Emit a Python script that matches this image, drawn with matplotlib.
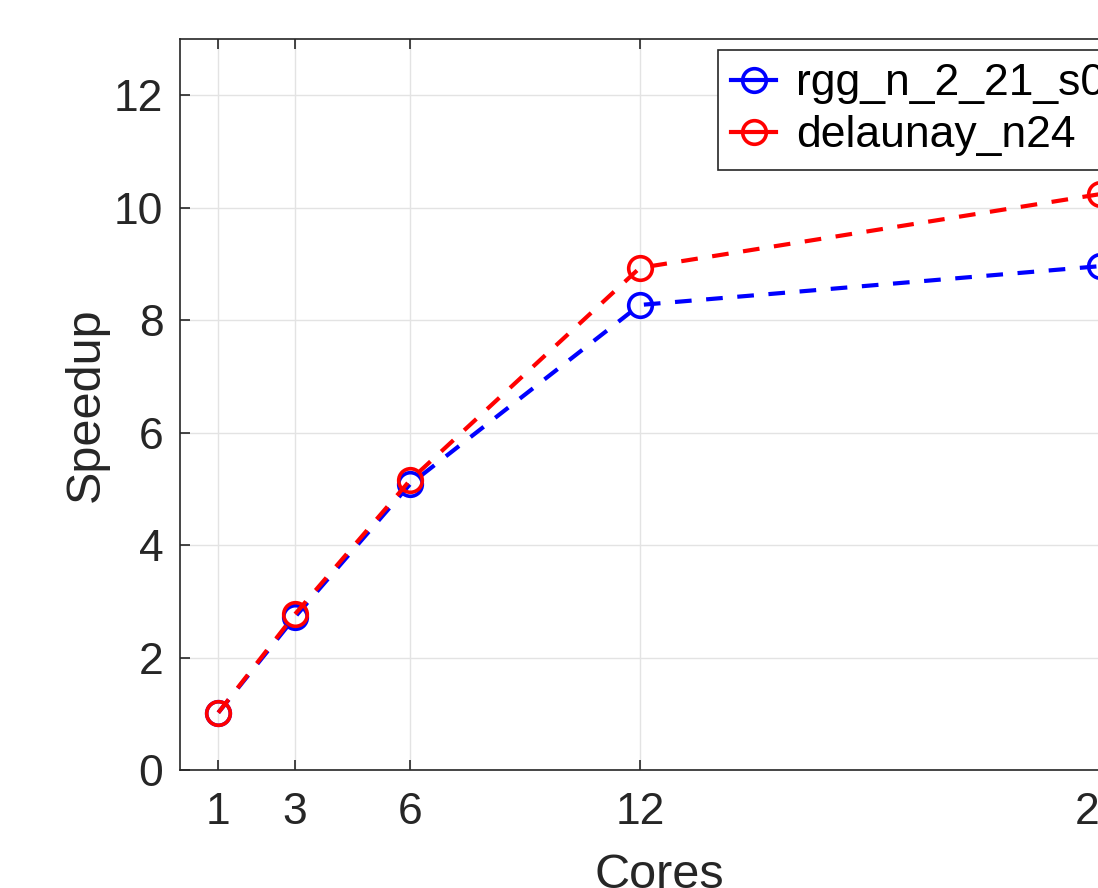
import numpy as np
import matplotlib.pyplot as plt

cores = [1, 3, 6, 12, 24]
rgg = [1.02, 2.72, 5.08, 8.27, 8.96]
delaunay = [1.02, 2.77, 5.15, 8.93, 10.24]
names = ['rgg_n_2_21_s0', 'delaunay_n24']

plt.rcParams['font.family'] = ['Liberation Sans', 'DejaVu Sans']

fig = plt.figure(figsize=(10.98, 8.88), dpi=100)
ax = fig.add_axes([180 / 1098, 1 - 770 / 888, 958 / 1098, 731 / 888])

style = dict(linestyle='--', linewidth=3, marker='o', markersize=17,
             markerfacecolor='none', markeredgewidth=2.6, dashes=(4, 3.5))
ax.plot(cores, rgg, color='#0000ff', label=names[0], **style)
ax.plot(cores, delaunay, color='#ff0000', label=names[1], **style)

ax.set_xlim(0, 25)
ax.set_ylim(0, 13)
ax.set_xticks(cores)
ax.set_yticks(np.arange(0, 13, 2))
ax.grid(True, color='#e3e3e3', linewidth=1)
ax.set_axisbelow(True)
ax.tick_params(direction='in', length=7, width=1.2, labelsize=32,
               colors='#262626', top=True, right=True)
ax.tick_params(axis='x', pad=16)
ax.tick_params(axis='y', pad=12)
for s in ax.spines.values():
    s.set_color('#262626')
    s.set_linewidth(1.2)

ax.set_xlabel('Cores', fontsize=35, color='#262626', labelpad=14)
ax.set_ylabel('Speedup', fontsize=35, color='#262626', labelpad=4)

leg = ax.legend(loc='upper left', bbox_to_anchor=(718 / 1098, 1 - 50 / 888),
                bbox_transform=fig.transFigure, borderaxespad=0,
                fontsize=32, handlelength=1.0, handletextpad=0.45,
                labelspacing=0.25, borderpad=0.3, fancybox=False,
                edgecolor='#262626', framealpha=1)
leg.get_frame().set_linewidth(1.2)
for h in leg.get_lines():
    h.set_linestyle('-')

fig.savefig('out.png', dpi=100)
